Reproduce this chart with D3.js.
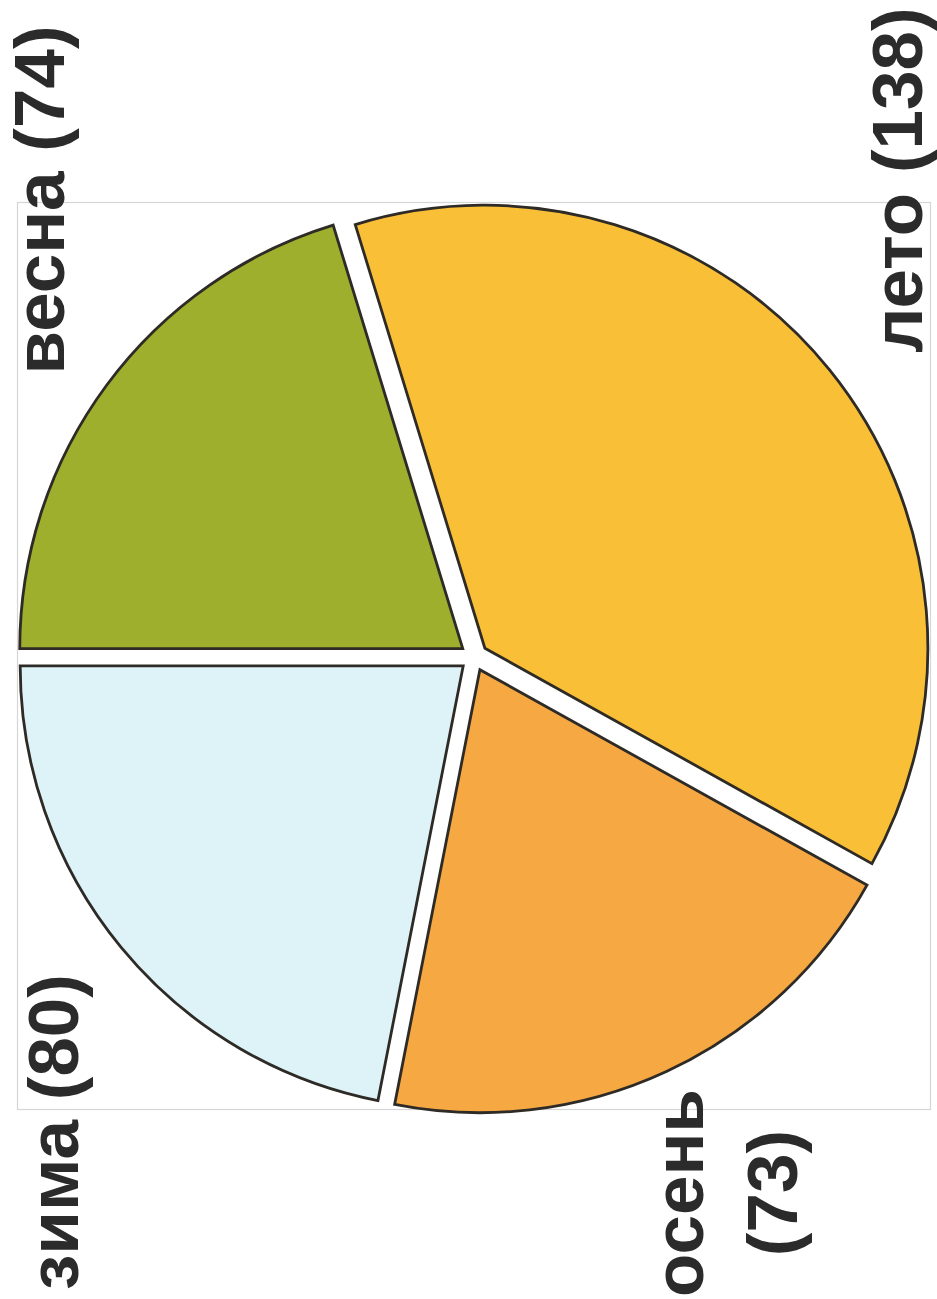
<!DOCTYPE html>
<html><head><meta charset="utf-8">
<script src="https://cdn.jsdelivr.net/npm/d3@7"></script>
<style>html,body{margin:0;padding:0;background:#fff;}svg{display:block;}</style>
</head><body>
<svg id="c" width="937" height="1299"></svg>
<script>
const categories = ["весна", "лето", "осень", "зима"];
const values = [74, 138, 73, 80];
const colors = ["#9eae2d", "#f9bf36", "#f6a843", "#def3f8"];
const labelLines = [["весна (74)"], ["лето (138)"], ["осень", "(73)"], ["зима (80)"]];

const svg = d3.select("#c");
const cx = 474, cy = 657, r = 443, explode = 14;

svg.append("rect").attr("x", 17.5).attr("y", 202.5).attr("width", 913).attr("height", 907)
  .attr("fill", "none").attr("stroke", "#d6d6d6").attr("stroke-width", 1.2);

const pie = d3.pie().sort(null).value(d => d)
  .startAngle(-Math.PI / 2).endAngle(1.5 * Math.PI);
const arcs = pie(values);
const arc = d3.arc().innerRadius(0).outerRadius(r);

const g = svg.append("g").attr("transform", `translate(${cx},${cy})`);
g.selectAll("path").data(arcs).join("path")
  .attr("d", arc)
  .attr("fill", (d, i) => colors[i])
  .attr("stroke", "#2e2a26").attr("stroke-width", 2.8).attr("stroke-linejoin", "miter")
  .attr("transform", d => {
    const a = (d.startAngle + d.endAngle) / 2;
    return `translate(${Math.sin(a) * explode},${-Math.cos(a) * explode})`;
  });

// rotated labels
const labelPos = [
  {x: 64, y: 200, lines: labelLines[0]},
  {x: 922, y: 180, lines: labelLines[1]},
  {x: 703, y: 1193, lines: labelLines[2]},
  {x: 78, y: 1132, lines: labelLines[3]}
];
labelPos.forEach(p => {
  const t = svg.append("text")
    .attr("transform", `translate(${p.x},${p.y}) rotate(-90)`)
    .attr("text-anchor", "middle")
    .attr("font-family", "'Liberation Sans', Arial, sans-serif")
    .attr("font-weight", "bold").attr("font-size", 71).attr("fill", "#2b2b2b");
  p.lines.forEach((l, i) => {
    t.append("tspan").attr("x", 0).attr("y", i * 94).text(l);
  });
});
</script>
</body></html>
